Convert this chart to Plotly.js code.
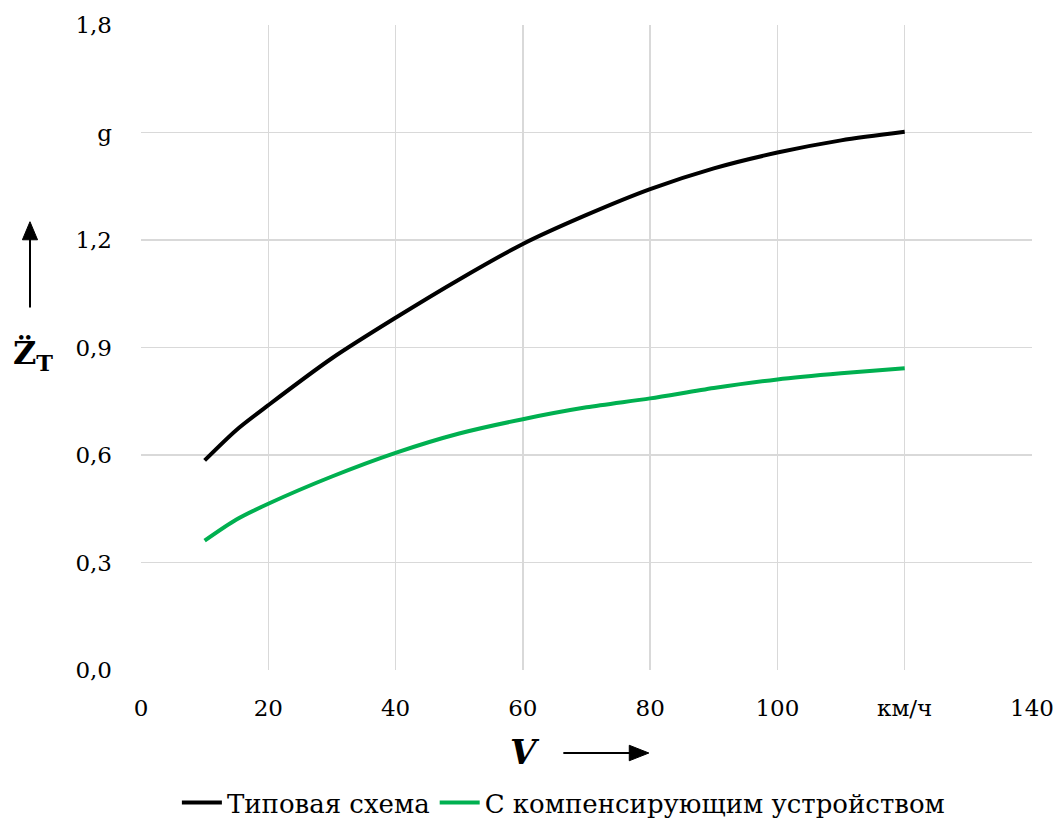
<!DOCTYPE html>
<html>
<head>
<meta charset="utf-8">
<script src="https://cdn.plot.ly/plotly-3.0.1.min.js"></script>
<style>html,body{margin:0;padding:0;background:#fff;}#chart{width:1063px;height:826px;}</style>
</head>
<body>
<div id="chart"></div>
<script>
const speed = [10, 15, 20, 30, 40, 50, 60, 70, 80, 90, 100, 110, 120];
const typical = [0.585, 0.67, 0.739, 0.87, 0.983, 1.09, 1.189, 1.27, 1.342, 1.40, 1.444, 1.478, 1.502];
const compensated = [0.361, 0.42, 0.464, 0.54, 0.606, 0.66, 0.70, 0.733, 0.758, 0.787, 0.811, 0.828, 0.842];
const xTickVals = [0, 20, 40, 60, 80, 100, 120, 140];
const xTickText = ['0', '20', '40', '60', '80', '100', 'км/ч', '140'];
const yTickVals = [0, 0.3, 0.6, 0.9, 1.2, 1.5, 1.8];
const yTickText = ['0,0', '0,3', '0,6', '0,9', '1,2', 'g', '1,8'];
const seriesNames = ['Типовая схема', 'С компенсирующим устройством'];

const font = 'DejaVu Serif';
const traces = [
  {x: speed, y: typical, name: seriesNames[0], mode: 'lines', line: {color: '#000000', width: 4, shape: 'spline', smoothing: 0.8}},
  {x: speed, y: compensated, name: seriesNames[1], mode: 'lines', line: {color: '#00b050', width: 4, shape: 'spline', smoothing: 0.8}}
];
// arrow geometry in paper coordinates
const upX = -0.1246, upTail = 0.562, upHead = 0.695;
const rX0 = 0.474, rX1 = 0.570, rY = -0.1287;
const hw = 0.0085, hlY = 0.028, hlX = 0.022, hhY = 0.012;
const layout = {
  width: 1063, height: 826,
  margin: {l: 141, r: 31, t: 25, b: 156},
  paper_bgcolor: '#fff', plot_bgcolor: '#fff',
  font: {family: font, size: 23, color: '#000'},
  showlegend: true,
  legend: {orientation: 'h', x: 0.53, xanchor: 'center', xref: 'container', y: 0.0, yanchor: 'bottom', yref: 'container', font: {family: font, size: 26, color: '#000'}, itemwidth: 40, tracegroupgap: 0},
  xaxis: {range: [0, 140], tickvals: xTickVals, ticktext: xTickText, showgrid: true, gridcolor: '#d9d9d9', gridwidth: 1.5, zeroline: false, showline: false, ticks: '', fixedrange: true, ticklabelstandoff: 22, tickfont: {family: font, size: 23}},
  yaxis: {range: [0, 1.8], tickvals: yTickVals, ticktext: yTickText, showgrid: true, gridcolor: '#d9d9d9', gridwidth: 1.5, zeroline: false, showline: false, ticks: '', fixedrange: true, ticklabelstandoff: 28, tickfont: {family: font, size: 23}},
  shapes: [
    {type: 'line', xref: 'paper', yref: 'paper', x0: upX, x1: upX, y0: upTail, y1: upHead - hlY * 0.8, line: {color: '#000', width: 2}},
    {type: 'path', xref: 'paper', yref: 'paper', path: `M ${upX - hw} ${upHead - hlY} L ${upX + hw} ${upHead - hlY} L ${upX} ${upHead} Z`, fillcolor: '#000', line: {color: '#000', width: 1}},
    {type: 'line', xref: 'paper', yref: 'paper', x0: rX0, x1: rX1 - hlX * 0.8, y0: rY, y1: rY, line: {color: '#000', width: 2}},
    {type: 'path', xref: 'paper', yref: 'paper', path: `M ${rX1 - hlX} ${rY - hhY} L ${rX1 - hlX} ${rY + hhY} L ${rX1} ${rY} Z`, fillcolor: '#000', line: {color: '#000', width: 1}}
  ],
  annotations: [
    {xref: 'paper', yref: 'paper', x: -0.1212, y: 0.488, xanchor: 'center', yanchor: 'middle', showarrow: false, text: '<b>Z̈<sub>Т</sub></b>', font: {family: font, size: 32, color: '#000'}},
    {xref: 'paper', yref: 'paper', x: 0.431, y: -0.127, xanchor: 'center', yanchor: 'middle', showarrow: false, text: '<b><i>V</i></b>', font: {family: font, size: 34, color: '#000'}}
  ]
};
Plotly.newPlot('chart', traces, layout, {displayModeBar: false, staticPlot: true});
</script>
</body>
</html>
